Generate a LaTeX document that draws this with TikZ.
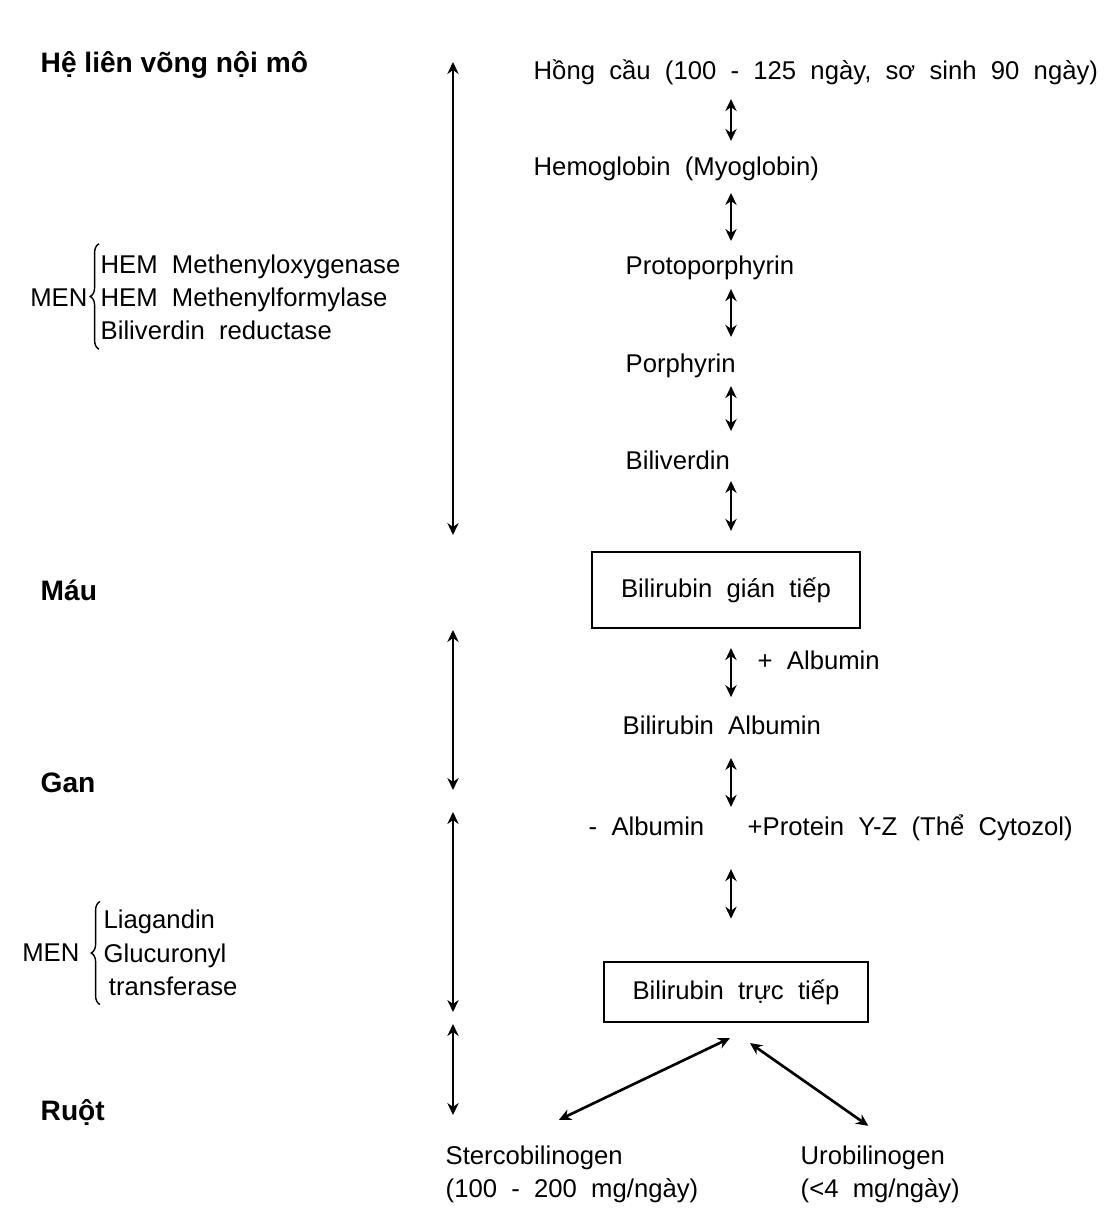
\documentclass[tikz,border=0pt]{standalone}
\usepackage{fontspec}
\setmainfont{Liberation Sans}
\newfontfamily\widesans{Liberation Sans}[WordSpace=2.0]
\usetikzlibrary{positioning,arrows.meta,decorations.pathreplacing}

\tikzset{
    txt/.style={inner sep=0pt, anchor=west, text height=5.5pt, text depth=1.5pt,
        font=\widesans\fontsize{7.3}{9.4}\selectfont},
    lines/.style={inner sep=0pt, anchor=west, align=left,
        font=\widesans\fontsize{7.3}{9.4}\selectfont},
    zone/.style={inner sep=0pt, anchor=west, font=\fontsize{8}{10}\selectfont\bfseries},
    stage/.style={draw, line width=0.6pt, inner sep=0pt,
        font=\widesans\fontsize{7.3}{9.4}\selectfont},
    biarrow/.style={{Stealth[length=3.4pt,width=3.2pt]}-{Stealth[length=3.4pt,width=3.2pt]}, line width=0.75pt},
    enzbrace/.style={decorate, decoration={brace, amplitude=2.5pt}, line width=0.4pt}
}

\begin{document}
\begin{tikzpicture}[x=0.01cm, y=-0.01cm]
    \useasboundingbox (0,0) rectangle (1110,1224);

    % zones on the left
    \node[zone] (hlv) at (40,65) {Hệ liên võng nội mô};
    \node[zone] (mau) at (40,590) {Máu};
    \node[zone] (gan) at (40,783) {Gan};
    \node[zone] (ruot) at (40,1113) {Ruột};

    \foreach \a/\b [count=\i] in {62/535, 630/790, 812/1012, 1024/1115}{
        \coordinate (za\i) at (453,\a);
        \coordinate (zb\i) at (453,\b);
        \draw[biarrow] (za\i) -- (zb\i);
    }

    % enzymes
    \node[lines] (enz1) at (100,297) {HEM Methenyloxygenase\\HEM Methenylformylase\\Biliverdin reductase};
    \node[lines, anchor=east] (men1) at (88,298) {MEN};
    \draw[enzbrace] ([shift={(-1,9)}]enz1.south west) -- ([shift={(-1,-10)}]enz1.north west);

    \node[lines, font=\widesans\fontsize{7.3}{9.5}\selectfont] (enz2) at (103,953) {Liagandin\\Glucuronyl\\\hspace{1.5pt}transferase};
    \node[lines, anchor=east] (men2) at (80,953) {MEN};
    \draw[enzbrace] ([shift={(-3,8)}]enz2.south west) -- ([shift={(-3,-8)}]enz2.north west);

    % main chain
    \coordinate (ax) at (731,0);
    \node[txt] (hong) at (533,72) {Hồng cầu (100 - 125 ngày, sơ sinh 90 ngày)};
    \node[txt] (hemo) at (533,168) {Hemoglobin (Myoglobin)};
    \node[txt] (proto) at (625,267) {Protoporphyrin};
    \node[txt] (porph) at (625,365) {Porphyrin};
    \node[txt] (biliv) at (625,462) {Biliverdin};
    \node[stage, minimum width=2.68cm, minimum height=0.76cm] (gian) at (726,590) {Bilirubin gián tiếp};
    \node[txt] (alb) at (757,662) {+ Albumin};
    \node[txt] (bilalb) at (622,727) {Bilirubin Albumin};
    \node[txt] (malb) at (588,828) {- Albumin};
    \node[txt] (prot) at (747,828) {+Protein Y-Z (Thể Cytozol)};
    \node[stage, minimum width=2.63cm, minimum height=0.6cm] (truc) at (736,992) {Bilirubin trực tiếp};
    \node[lines] (sterco) at (445,1174) {Stercobilinogen\\(100 - 200 mg/ngày)};
    \node[lines] (uro) at (800,1174) {Urobilinogen\\(<4 mg/ngày)};

    \foreach \a/\b/\s/\t in {hong/hemo/4/4, hemo/proto/3.4/3.7, proto/porph/2.6/4.3,
        porph/biliv/2.3/5.1, biliv/gian/1.7/5.7, gian/bilalb/5.4/4.8,
        bilalb/malb/5.1/2.3, malb/truc/8/12}
        \draw[biarrow, shorten <=\s pt, shorten >=\t pt] (\a.south -| ax) -- (\b.north -| ax);

    \draw[biarrow] ([shift={(-6,15)}]truc.south) -- ([shift={(-13,-25)}]sterco.north);
    \draw[biarrow] ([shift={(14,20)}]truc.south) -- ([shift={(-12,-19)}]uro.north);
\end{tikzpicture}
\end{document}
